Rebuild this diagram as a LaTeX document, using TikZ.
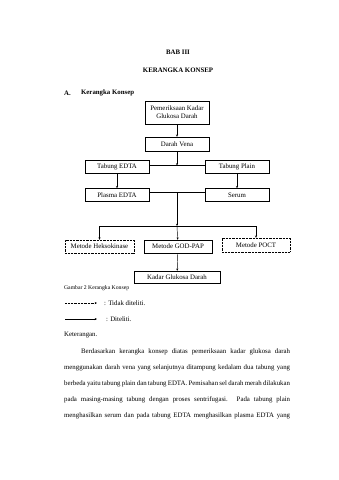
\documentclass[tikz,border=0pt]{standalone}
\usepackage{fontspec}
\setmainfont{Liberation Serif}
\usetikzlibrary{arrows.meta,calc}
\def\u{1.755pt}
\tikzset{
  box/.style={draw,line width=0.8pt,inner sep=1pt,align=center,font=\fontsize{12}{13.5}\selectfont},
  dbox/.style={box,dash pattern=on 1.5pt off 1pt},
  arr/.style={line width=0.8pt,-{Stealth[length=4pt,width=3.5pt]}},
  ln/.style={line width=0.8pt},
  body/.style={font=\fontsize{12}{14}\selectfont,inner sep=0pt}
}
\begin{document}
\begin{tikzpicture}[x=1.755pt,y=-1.755pt]
\useasboundingbox[fill=white] (0,0) rectangle (339,480);
% headings
\node[body,font=\fontsize{12}{14}\selectfont\bfseries] (bab) at (178,52) {BAB III};
\node[body,font=\fontsize{12}{14}\selectfont\bfseries] (kk) at (178,70) {KERANGKA KONSEP};
\node[body,font=\fontsize{12}{14}\selectfont\bfseries,anchor=west] (a) at (64,93) {A.};
\node[body,font=\fontsize{12}{14}\selectfont\bfseries,anchor=west] (ak) at (81,93) {Kerangka Konsep};
% boxes
\node[box,minimum width=64*\u,minimum height=23*\u] (pk) at (177,112.5) {Pemeriksaan Kadar\\Glukosa Darah};
\node[box,minimum width=64*\u,minimum height=14*\u] (dv) at (177,144) {Darah Vena};
\node[box,minimum width=64*\u,minimum height=13*\u] (te) at (117,166.5) {Tabung EDTA};
\node[box,minimum width=64*\u,minimum height=13*\u] (tp) at (237,166.5) {Tabung Plain};
\node[box,minimum width=64*\u,minimum height=13*\u] (pe) at (117,195) {Plasma EDTA};
\node[box,minimum width=64*\u,minimum height=13*\u] (se) at (237,195) {Serum};
\node[dbox,minimum width=69*\u,minimum height=13*\u] (mh) at (99.5,246.5) {Metode Heksokinase};
\node[box,minimum width=68*\u,minimum height=13*\u] (mg) at (178,246.5) {Metode GOD-PAP};
\node[dbox,minimum width=68*\u,minimum height=14*\u] (mp) at (256,245) {Metode POCT};
\node[box,minimum width=86*\u,minimum height=12*\u] (kg) at (177,277) {Kadar Glukosa Darah};
% connectors
\coordinate (j1) at (177,165.5);
\coordinate (j2) at (177,192.5);
\coordinate (j3) at (177,226);
\coordinate (l3) at (99.5,226);
\coordinate (r3) at (256,226);
\draw[arr] (pk) -- (dv);
\draw[ln] (te.east |- j1) -- (tp.west |- j1);
\draw[arr] (dv) -- (j1);
\draw[arr] (te) -- (pe);
\draw[arr] (tp) -- (se);
\draw[ln] (pe.east |- j2) -- (se.west |- j2);
\draw[arr] (j2) -- (j3);
\draw[ln] (l3) -- (r3);
\draw[arr] (l3) -- (mh);
\draw[arr] (j3) -- (mg);
\draw[arr] (r3) -- (mp);
\draw[arr] (mg) -- (kg);
% caption and legend
\node[body,font=\fontsize{10}{12}\selectfont,anchor=west] (cap) at (64,288) {Gambar 2 Kerangka Konsep};
\coordinate (d1) at (65,303);
\coordinate (d2) at (97,303);
\coordinate (s1) at (65,319);
\coordinate (s2) at (97,319);
\draw[arr,dash pattern=on 1.5pt off 1pt] (d1) -- (d2);
\draw[arr] (s1) -- (s2);
\node[body,anchor=west] (ld) at (104,303) {: Tidak diteliti.};
\node[body,anchor=west] (ls) at (106,319) {: Diteliti.};
\node[body,anchor=west] (ket) at (64,335) {Keterangan.};
% paragraph
\node[body,anchor=west] (p1) at (81,352) {\makebox[366.8pt][s]{Berdasarkan kerangka konsep diatas pemeriksaan kadar glukosa darah}};
\node[body,anchor=west] (p2) at (64,368) {\makebox[396.6pt][s]{menggunakan darah vena yang selanjutnya ditampung kedalam dua tabung yang}};
\node[body,anchor=west] (p3) at (64,384) {\makebox[396.6pt][s]{berbeda yaitu tabung plain dan tabung EDTA. Pemisahan sel darah merah dilakukan}};
\node[body,anchor=west] (p4) at (64,400) {\makebox[396.6pt][s]{pada masing-masing tabung dengan proses sentrifugasi. Pada tabung plain}};
\node[body,anchor=west] (p5) at (64,416) {\makebox[396.6pt][s]{menghasilkan serum dan pada tabung EDTA menghasilkan plasma EDTA yang}};
\end{tikzpicture}
\end{document}
